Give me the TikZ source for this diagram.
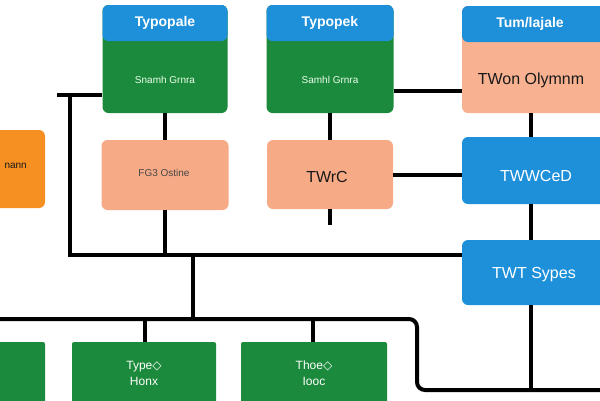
\documentclass[tikz,border=0pt]{standalone}
\usepackage{fontspec}
\setmainfont{Liberation Sans}
\newfontfamily\dejavu{DejaVu Sans}
\definecolor{hblue}{RGB}{30,144,218}
\definecolor{bgreen}{RGB}{28,138,60}
\definecolor{salmon}{RGB}{246,170,134}
\definecolor{salmonlt}{RGB}{248,178,146}
\definecolor{borange}{RGB}{246,144,34}
\definecolor{dtext}{RGB}{25,25,25}
\tikzset{
  boxbase/.style={rectangle, rounded corners=6pt, inner sep=0pt, draw=none},
  hdrbox/.style={boxbase, path picture={\fill[hblue] (path picture bounding box.north west) rectangle ([yshift=-36pt]path picture bounding box.north east);}},
  greenbox/.style={boxbase, fill=bgreen, rounded corners=2pt},
  conn/.style={draw=black, line width=4pt},
  hdrtext/.style={text=white, font=\fontsize{14}{16}\selectfont\bfseries},
  smalltext/.style={text=white!92!green, font=\fontsize{10}{12}\selectfont},
  bigtext/.style={text=dtext, font=\fontsize{16}{18}\selectfont},
  wtext/.style={text=white, font=\fontsize{16}{18}\selectfont},
  gtext/.style={text=white, font=\fontsize{12}{14}\selectfont, align=center}
}
\begin{document}
\begin{tikzpicture}[x=1pt,y=-1pt]
\clip (0,0) rectangle (600,400);
\fill[white] (0,0) rectangle (600,400);
% top row
\node[hdrbox, fill=bgreen, minimum width=125pt, minimum height=108pt] (tl) at (165,59) {};
\node[hdrbox, fill=bgreen, minimum width=127pt, minimum height=108pt] (tm) at (330,59) {};
\node[hdrbox, fill=salmonlt, minimum width=178pt, minimum height=107pt] (tr) at (551,59.5) {};
\node[hdrtext] (tlh) at (165,23) {Typopale};
\node[smalltext] (tlb) at (165,80) {Snamh Grnra};
\node[hdrtext] (tmh) at (330,23) {Typopek};
\node[smalltext] (tmb) at (330,80) {Samhl Grnra};
\node[hdrtext] (trh) at (530,24) {Tum/lajale};
\node[bigtext] (trb) at (531,80) {TWon Olymnm};
% middle row
\node[boxbase, fill=borange, minimum width=65pt, minimum height=78pt] (or) at (12.5,169) {};
\node[anchor=west, text=dtext, font=\fontsize{10}{12}\selectfont] (ort) at (1,166) {nann};
\node[boxbase, fill=salmon, minimum width=127pt, minimum height=70pt] (fg) at (165,175) {};
\node[text=dtext!80, font=\fontsize{10}{12}\selectfont] (fgt) at (164,173) {FG3 Ostine};
\node[boxbase, fill=salmon, minimum width=126pt, minimum height=69pt] (twrc) at (330,174.5) {};
\node[bigtext] (twrct) at (327,177) {TWrC};
\node[boxbase, fill=hblue, minimum width=178pt, minimum height=67pt] (twwc) at (551,170.5) {};
\node[wtext] (twwct) at (536,176) {TWWCeD};
\node[boxbase, fill=hblue, minimum width=178pt, minimum height=65pt] (twt) at (551,272.5) {};
\node[wtext] (twtt) at (534,275) {TWT Sypes};
% bottom row
\node[greenbox, minimum width=65pt, minimum height=78pt] (g1) at (12.5,381) {};
\node[greenbox, minimum width=144pt, minimum height=78pt] (g2) at (144,381) {};
\node[greenbox, minimum width=146pt, minimum height=78pt] (g3) at (314,381) {};
\node[gtext] (g2t) at (144,373) {Type{\dejavu ◇}\\[2pt]Honx};
\node[gtext] (g3t) at (314,373) {Thoe{\dejavu ◇}\\[2pt]Iooc};
% junction coordinates
\coordinate (j1) at (57,95);
\coordinate (j2) at (70,95);
\coordinate (j3) at (70,255);
\coordinate (j4) at (165,255);
\coordinate (j5) at (193,255);
\coordinate (j6) at (193,319);
\coordinate (j7) at (0,319);
\coordinate (j8) at (417,319);
\coordinate (j9) at (417,390);
\coordinate (j10) at (600,390);
\coordinate (j11) at (531,390);
\coordinate (j12) at (330,225);
\coordinate (j13) at (145,319);
\coordinate (j14) at (313,319);
% connectors
\draw[conn] (j1) -- (j1 -| tl.west);
\draw[conn] (j2) -- (j3) -- (j3 -| twt.west);
\draw[conn] (tl.south) -- (fg.north);
\draw[conn] (fg.south) -- (j4);
\draw[conn] (tm.south) -- (twrc.north);
\draw[conn] (twrc.south) -- (j12);
\draw[conn] ([yshift=-32pt]tm.east) -- ([yshift=-32pt]tm.east -| tr.west);
\draw[conn] (twrc.east) -- (twrc.east -| twwc.west);
\draw[conn] (tr.south -| j11) -- (twwc.north -| j11);
\draw[conn] (twwc.south -| j11) -- (twt.north -| j11);
\draw[conn] (twt.south -| j11) -- (j11);
\draw[conn] (j5) -- (j6);
\draw[conn, rounded corners=8pt] (j7) -- (j8) -- (j9) -- (j10);
\draw[conn] (j13) -- (j13 |- g2.north);
\draw[conn] (j14) -- (j14 |- g3.north);
\end{tikzpicture}
\end{document}
